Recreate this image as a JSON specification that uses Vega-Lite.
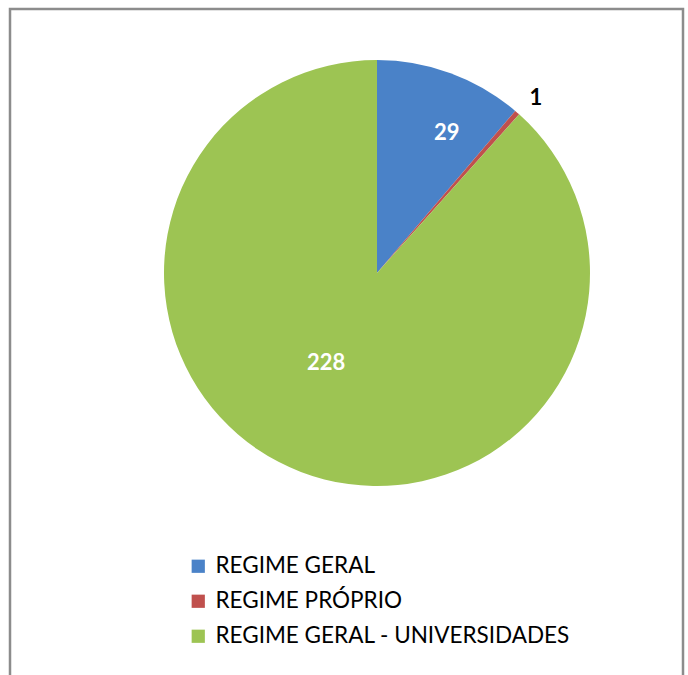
{
  "$schema": "https://vega.github.io/schema/vega-lite/v6.json",
  "autosize": {"type": "none"},
  "width": 673,
  "height": 670,
  "padding": {"left": 10, "top": 9, "right": 5, "bottom": 0},
  "background": "white",
  "view": {"stroke": "#8c8c8c", "strokeWidth": 2.5},
  "data": {
    "values": [
      {"categoria": "REGIME GERAL", "valor": 29, "ordem": 1},
      {"categoria": "REGIME PRÓPRIO", "valor": 1, "ordem": 2},
      {"categoria": "REGIME GERAL - UNIVERSIDADES", "valor": 228, "ordem": 3}
    ]
  },
  "encoding": {
    "theta": {"field": "valor", "type": "quantitative", "stack": true},
    "order": {"field": "ordem", "type": "quantitative"}
  },
  "layer": [
    {
      "mark": {"type": "arc", "x": 367, "y": 264, "outerRadius": 213, "stroke": null},
      "encoding": {
        "color": {
          "field": "categoria",
          "type": "nominal",
          "sort": ["REGIME GERAL", "REGIME PRÓPRIO", "REGIME GERAL - UNIVERSIDADES"],
          "scale": {
            "domain": ["REGIME GERAL", "REGIME PRÓPRIO", "REGIME GERAL - UNIVERSIDADES"],
            "range": ["#4A82C8", "#C0504D", "#9DC453"]
          },
          "legend": {
            "title": null,
            "orient": "none",
            "legendX": 177,
            "legendY": 546,
            "symbolType": "square",
            "symbolSize": 175,
            "symbolStrokeWidth": 0,
            "labelFont": "Lato",
            "labelFontSize": 22.5,
            "labelColor": "#000000",
            "labelOffset": 6,
            "rowPadding": 12,
            "labelLimit": 600
          }
        }
      }
    },
    {
      "mark": {"type": "text", "x": 367, "y": 264, "radius": 156, "thetaOffset": 0.11, "font": "Lato", "fontWeight": "bold", "fontSize": 22, "color": "white"},
      "encoding": {"text": {"condition": {"test": "datum.ordem == 1", "field": "valor", "type": "quantitative"}, "value": ""}}
    },
    {
      "mark": {"type": "text", "x": 367, "y": 264, "radius": 236, "thetaOffset": 0.02, "font": "Lato", "fontWeight": "bold", "fontSize": 22, "color": "black"},
      "encoding": {"text": {"condition": {"test": "datum.ordem == 2", "field": "valor", "type": "quantitative"}, "value": ""}}
    },
    {
      "mark": {"type": "text", "x": 367, "y": 264, "radius": 103, "thetaOffset": 0.15, "font": "Lato", "fontWeight": "bold", "fontSize": 22, "color": "white"},
      "encoding": {"text": {"condition": {"test": "datum.ordem == 3", "field": "valor", "type": "quantitative"}, "value": ""}}
    }
  ]
}
